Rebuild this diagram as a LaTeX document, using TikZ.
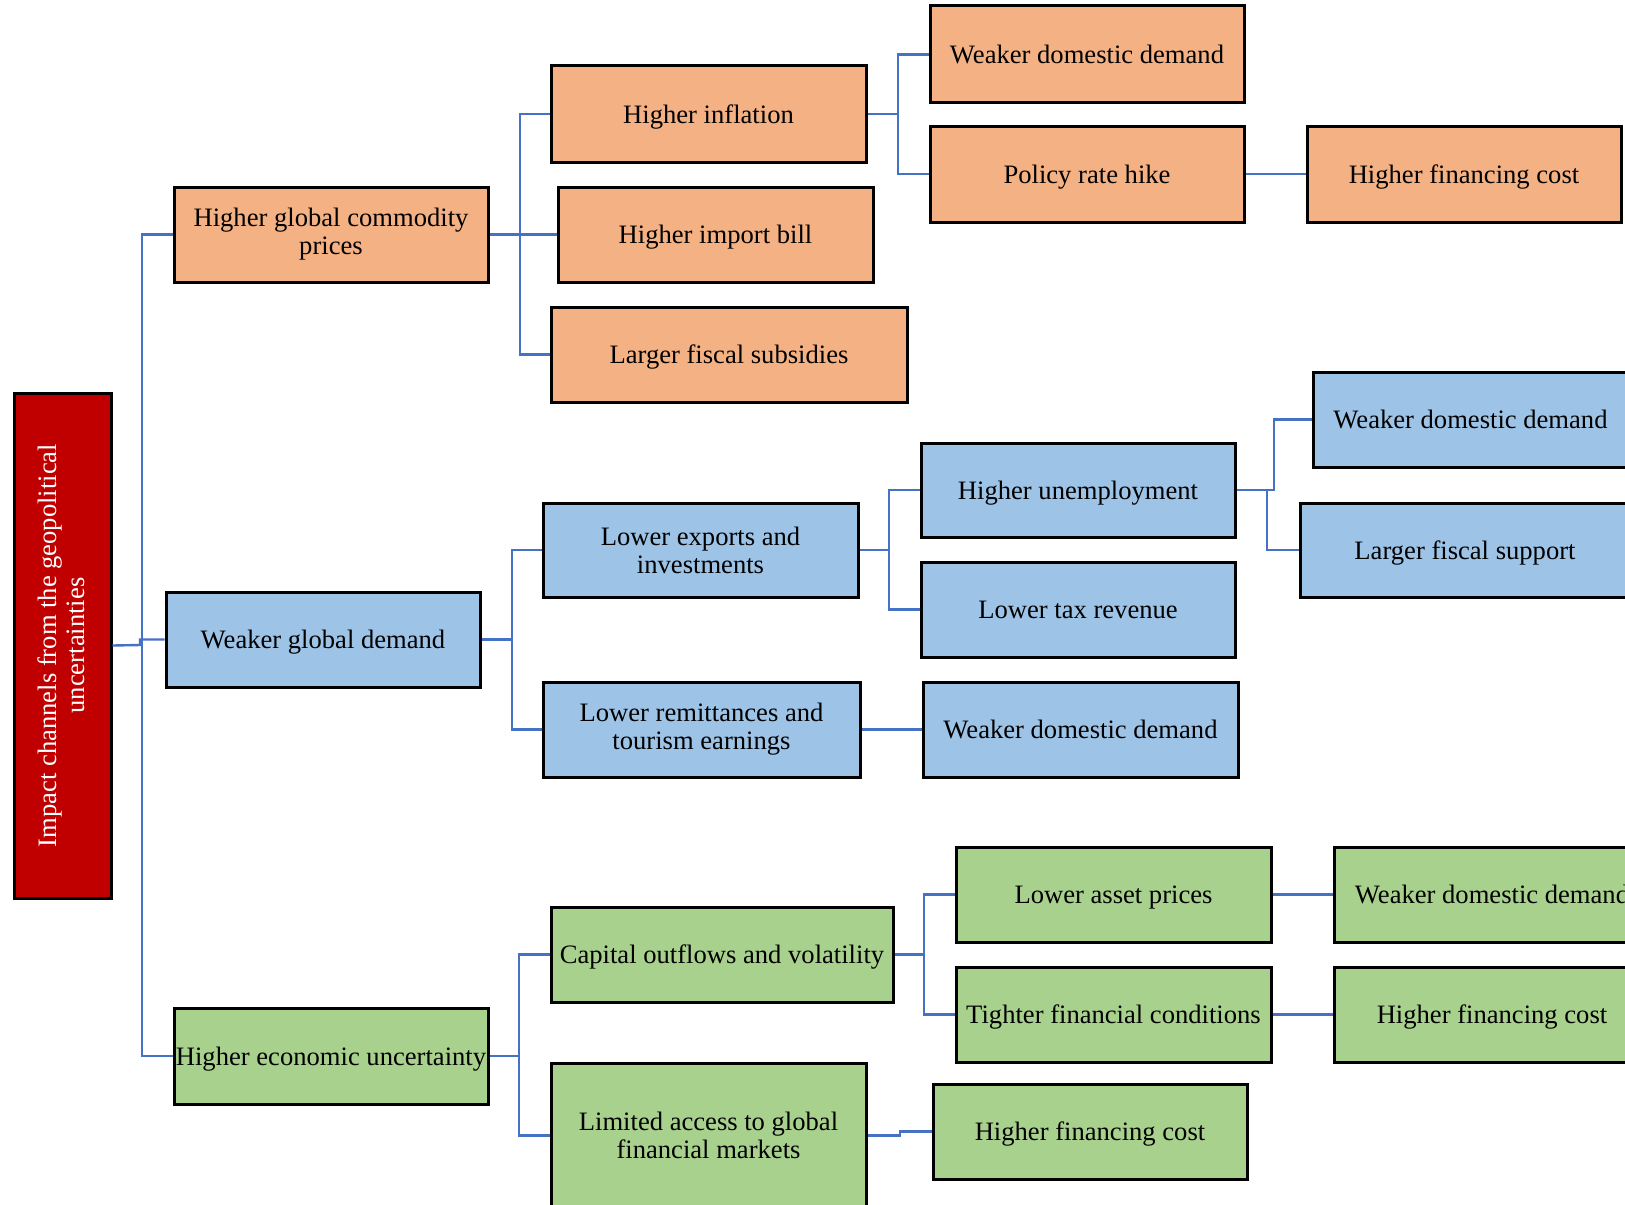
\documentclass[tikz,border=0pt]{standalone}
\usepackage{fontspec}
\setmainfont{Liberation Serif}
\definecolor{orangefill}{RGB}{244,177,131}
\definecolor{bluefill}{RGB}{157,195,230}
\definecolor{greenfill}{RGB}{169,209,142}
\definecolor{rootred}{RGB}{192,0,0}
\definecolor{linkblue}{RGB}{68,114,196}
\tikzset{
  basebox/.style={draw=black, line width=1.5pt, inner sep=0pt, align=center, font=\fontsize{13.3}{14}\selectfont},
  one/.style={text height=1.15em, text depth=0.22em},
  obox/.style={basebox, fill=orangefill},
  bbox/.style={basebox, fill=bluefill},
  gbox/.style={basebox, fill=greenfill},
  rbox/.style={basebox, fill=rootred, text=white},
  link/.style={draw=linkblue, line width=1.2pt}
}
\newcommand{\bx}[7]{\node[#2, minimum width={(#5-#3)*0.5pt}, minimum height={(#6-#4)*0.5pt}] (#1) at ({(#3+#5)/2},{(#4+#6)/2}) {#7};}
\begin{document}
\begin{tikzpicture}[x=0.5pt,y=-0.5pt]
\useasboundingbox (0,0) rectangle (1625,1204);
\clip (0,0) rectangle (1625,1204);
\fill[white] (0,0) rectangle (1625,1204);
% root
\bx{root}{rbox}{14.5}{393}{111}{898}{\hspace{2.6pt}\rotatebox{90}{\begin{tabular}{@{}c@{}}Impact channels from the geopolitical\\[0pt]uncertainties\end{tabular}}}
% level 1
\bx{cp}{obox}{174}{187}{488}{282}{Higher global commodity\\prices}
\bx{wgd}{bbox,one}{166}{592}{480}{687}{Weaker global demand}
\bx{heu}{gbox,one}{174}{1008}{488}{1104}{Higher economic uncertainty}
% orange branch
\bx{hi}{obox,one}{551}{66}{866}{162}{Higher inflation}
\bx{hib}{obox,one}{558}{187}{873}{282}{Higher import bill}
\bx{lfs}{obox,one}{551}{307}{907}{402}{Larger fiscal subsidies}
\bx{wdda}{obox,one}{930}{6}{1244}{103}{Weaker domestic demand}
\bx{prh}{obox,one}{930}{126}{1244}{222}{Policy rate hike}
\bx{hfca}{obox,one}{1307}{126}{1621}{222}{Higher financing cost}
% blue branch
\bx{lei}{bbox}{543}{503}{858}{597}{Lower exports and\\investments}
\bx{lrt}{bbox}{543}{682}{860}{777}{Lower remittances and\\tourism earnings}
\bx{hu}{bbox,one}{921}{443}{1235}{537}{Higher unemployment}
\bx{ltr}{bbox,one}{921}{562}{1235}{657}{Lower tax revenue}
\bx{wddb}{bbox,one}{923}{682}{1238}{777}{Weaker domestic demand}
\bx{wddc}{bbox,one}{1313}{372}{1628}{467}{Weaker domestic demand}
\bx{lfsup}{bbox,one}{1300}{503}{1630}{597}{Larger fiscal support}
% green branch
\bx{cov}{gbox,one}{551}{907}{893}{1002}{Capital outflows and volatility}
\bx{lag}{gbox}{551}{1063}{866}{1208}{Limited access to global\\financial markets}
\bx{lap}{gbox,one}{956}{847}{1271}{942}{Lower asset prices}
\bx{tfc}{gbox,one}{956}{967}{1271}{1062}{Tighter financial conditions}
\bx{hfcb}{gbox,one}{933}{1084}{1247}{1179}{Higher financing cost}
\bx{wddd}{gbox,one}{1334}{847}{1650}{942}{Weaker domestic demand}
\bx{hfcc}{gbox,one}{1334}{967}{1650}{1062}{Higher financing cost}
% connectors
\draw[link] (root.east) -- (140,645) -- (140,639.5) -- (wgd.west);
\draw[link] (cp.west) -| (142,900) |- (heu.west);
\draw[link] (cp.east) -- (hib.west);
\draw[link] (hi.west) -| (520,300) |- (lfs.west);
\draw[link] (hi.east) -| (898,100) |- (wdda.west);
\draw[link] (898,100) |- (prh.west);
\draw[link] (prh.east) -- (hfca.west);
\draw[link] (wgd.east) -| (512,600) |- (lei.west);
\draw[link] (512,600) |- (lrt.west);
\draw[link] (lei.east) -| (889,520) |- (hu.west);
\draw[link] (889,520) |- (ltr.west);
\draw[link] (hu.east) -| (1274,450) |- (wddc.west);
\draw[link] (1267,490) |- (lfsup.west);
\draw[link] (lrt.east) -- (wddb.west);
\draw[link] (heu.east) -| (519,1000) |- (cov.west);
\draw[link] (519,1000) |- (lag.west);
\draw[link] (cov.east) -| (924,920) |- (lap.west);
\draw[link] (924,920) |- (tfc.west);
\draw[link] (lap.east) -- (wddd.west);
\draw[link] (tfc.east) -- (hfcc.west);
\draw[link] (lag.east) -- (900,1135.5) -- (900,1131.5) -- (hfcb.west);
\end{tikzpicture}
\end{document}
